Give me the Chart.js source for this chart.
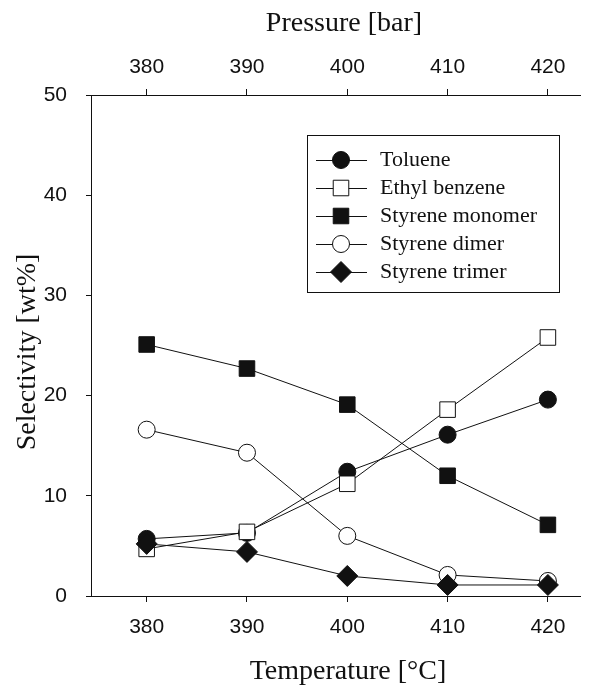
<!DOCTYPE html>
<html>
<head>
<meta charset="utf-8">
<script src="https://cdn.jsdelivr.net/npm/chart.js@4.4.1/dist/chart.umd.min.js"></script>
<style>
  html, body { margin: 0; padding: 0; background: #fff; }
</style>
</head>
<body>
<canvas id="myChart" width="592" height="686"></canvas>
<script>
// temperature [C] on the bottom axis, pressure [bar] on the top one
const temps = [380, 390, 400, 410, 420];
const xTicks = [380, 390, 400, 410, 420];
const pressureTicks = [380, 390, 400, 410, 420];
const yTicks = [0, 10, 20, 30, 40, 50];

const seriesNames = ["Toluene", "Ethyl benzene", "Styrene monomer", "Styrene dimer", "Styrene trimer"];
const toluene = [5.7, 6.3, 12.4, 16.1, 19.6];
const ethylBenzene = [4.7, 6.4, 11.2, 18.6, 25.8];
const styreneMonomer = [25.1, 22.7, 19.1, 12.0, 7.1];
const styreneDimer = [16.6, 14.3, 6.0, 2.1, 1.5];
const styreneTrimer = [5.2, 4.4, 2.0, 1.1, 1.1];

const allValues = [toluene, ethylBenzene, styreneMonomer, styreneDimer, styreneTrimer];
const markerStyles = ["circle", "rect", "rect", "circle", "rectRot"];
const markerFill = ["#111", "#fff", "#111", "#fff", "#111"];
const markerSize = [8.5, 11, 11, 8.5, 10.5];

const datasets = seriesNames.map(function (name, i) {
  return {
    label: name,
    data: temps.map(function (t, j) { return {x: t, y: allValues[i][j]}; }),
    borderColor: "#111",
    borderWidth: 1,
    tension: 0,
    fill: false,
    pointStyle: markerStyles[i],
    pointRadius: markerSize[i],
    pointBackgroundColor: markerFill[i],
    pointBorderColor: "#111",
    pointBorderWidth: 1,
    order: 5 - i
  };
});

function drawMarker(ctx, style, r, fillCol, x, y) {
  ctx.save();
  ctx.beginPath();
  if (style === "circle") {
    ctx.arc(x, y, r, 0, Math.PI * 2);
  } else if (style === "rect") {
    const s = Math.SQRT1_2 * r;
    ctx.rect(x - s, y - s, 2 * s, 2 * s);
  } else {
    ctx.moveTo(x - r, y);
    ctx.lineTo(x, y - r);
    ctx.lineTo(x + r, y);
    ctx.lineTo(x, y + r);
    ctx.closePath();
  }
  ctx.fillStyle = fillCol;
  ctx.fill();
  ctx.strokeStyle = "#111";
  ctx.lineWidth = 1;
  ctx.stroke();
  ctx.restore();
}

const extras = {
  id: "extras",
  beforeDraw(chart) {
    const ctx = chart.ctx;
    ctx.save();
    ctx.fillStyle = "#fff";
    ctx.fillRect(0, 0, chart.width, chart.height);
    ctx.restore();
  },
  afterDraw(chart) {
    const ctx = chart.ctx;
    ctx.save();
    ctx.fillStyle = "#111";
    ctx.font = "28px 'Liberation Serif', 'Times New Roman', serif";
    ctx.textAlign = "center";
    ctx.textBaseline = "middle";
    ctx.fillText("Pressure [bar]", 344, 24);
    ctx.fillText("Temperature [\u00B0C]", 348, 672);
    ctx.translate(28, 352);
    ctx.rotate(-Math.PI / 2);
    ctx.fillText("Selectivity [wt%]", 0, 0);
    ctx.restore();

    // legend box
    ctx.save();
    ctx.strokeStyle = "#111";
    ctx.lineWidth = 1;
    ctx.fillStyle = "#fff";
    ctx.fillRect(307.5, 135.5, 252, 157);
    ctx.strokeRect(307.5, 135.5, 252, 157);
    ctx.font = "22px 'Liberation Serif', 'Times New Roman', serif";
    ctx.textBaseline = "middle";
    ctx.textAlign = "left";
    seriesNames.forEach(function (name, i) {
      const y = 160 + i * 28;
      ctx.beginPath();
      ctx.moveTo(316, y + 0.5);
      ctx.lineTo(367, y + 0.5);
      ctx.stroke();
      drawMarker(ctx, markerStyles[i], markerSize[i], markerFill[i], 341, y);
      ctx.fillStyle = "#111";
      ctx.fillText(name, 380, y);
    });
    ctx.restore();
  }
};

const tickFont = {family: "'Liberation Sans', Arial, sans-serif", size: 21};

function fixedTicks(list) {
  return function (scale) {
    scale.ticks = list.map(function (v) { return {value: v}; });
  };
}

new Chart("myChart", {
  type: "line",
  data: {datasets: datasets},
  options: {
    responsive: false,
    animation: false,
    devicePixelRatio: 1,
    layout: {padding: {right: 12, top: 0, bottom: 0, left: 0}},
    plugins: {legend: {display: false}, tooltip: {enabled: false}},
    scales: {
      x: {
        type: "linear",
        position: "bottom",
        min: 374.45,
        max: 423.2,
        afterBuildTicks: fixedTicks(xTicks),
        afterFit: function (s) { s.height = 90; },
        grid: {drawOnChartArea: false, drawTicks: true, tickLength: 6, color: "#111"},
        border: {display: true, color: "#111", width: 1},
        ticks: {font: tickFont, color: "#111", padding: 13, maxRotation: 0}
      },
      x2: {
        type: "linear",
        position: "top",
        display: true,
        min: 374.45,
        max: 423.2,
        afterBuildTicks: fixedTicks(pressureTicks),
        afterFit: function (s) { s.height = 95; },
        grid: {drawOnChartArea: false, drawTicks: true, tickLength: 6, color: "#111"},
        border: {display: true, color: "#111", width: 1},
        ticks: {font: tickFont, color: "#111", padding: 9, maxRotation: 0}
      },
      y: {
        min: 0,
        max: 50,
        afterBuildTicks: fixedTicks(yTicks),
        afterFit: function (s) { s.width = 91; },
        grid: {drawOnChartArea: false, drawTicks: true, tickLength: 5, color: "#111"},
        border: {display: true, color: "#111", width: 1},
        ticks: {font: tickFont, color: "#111", padding: 19}
      }
    }
  },
  plugins: [extras]
});
</script>
</body>
</html>
